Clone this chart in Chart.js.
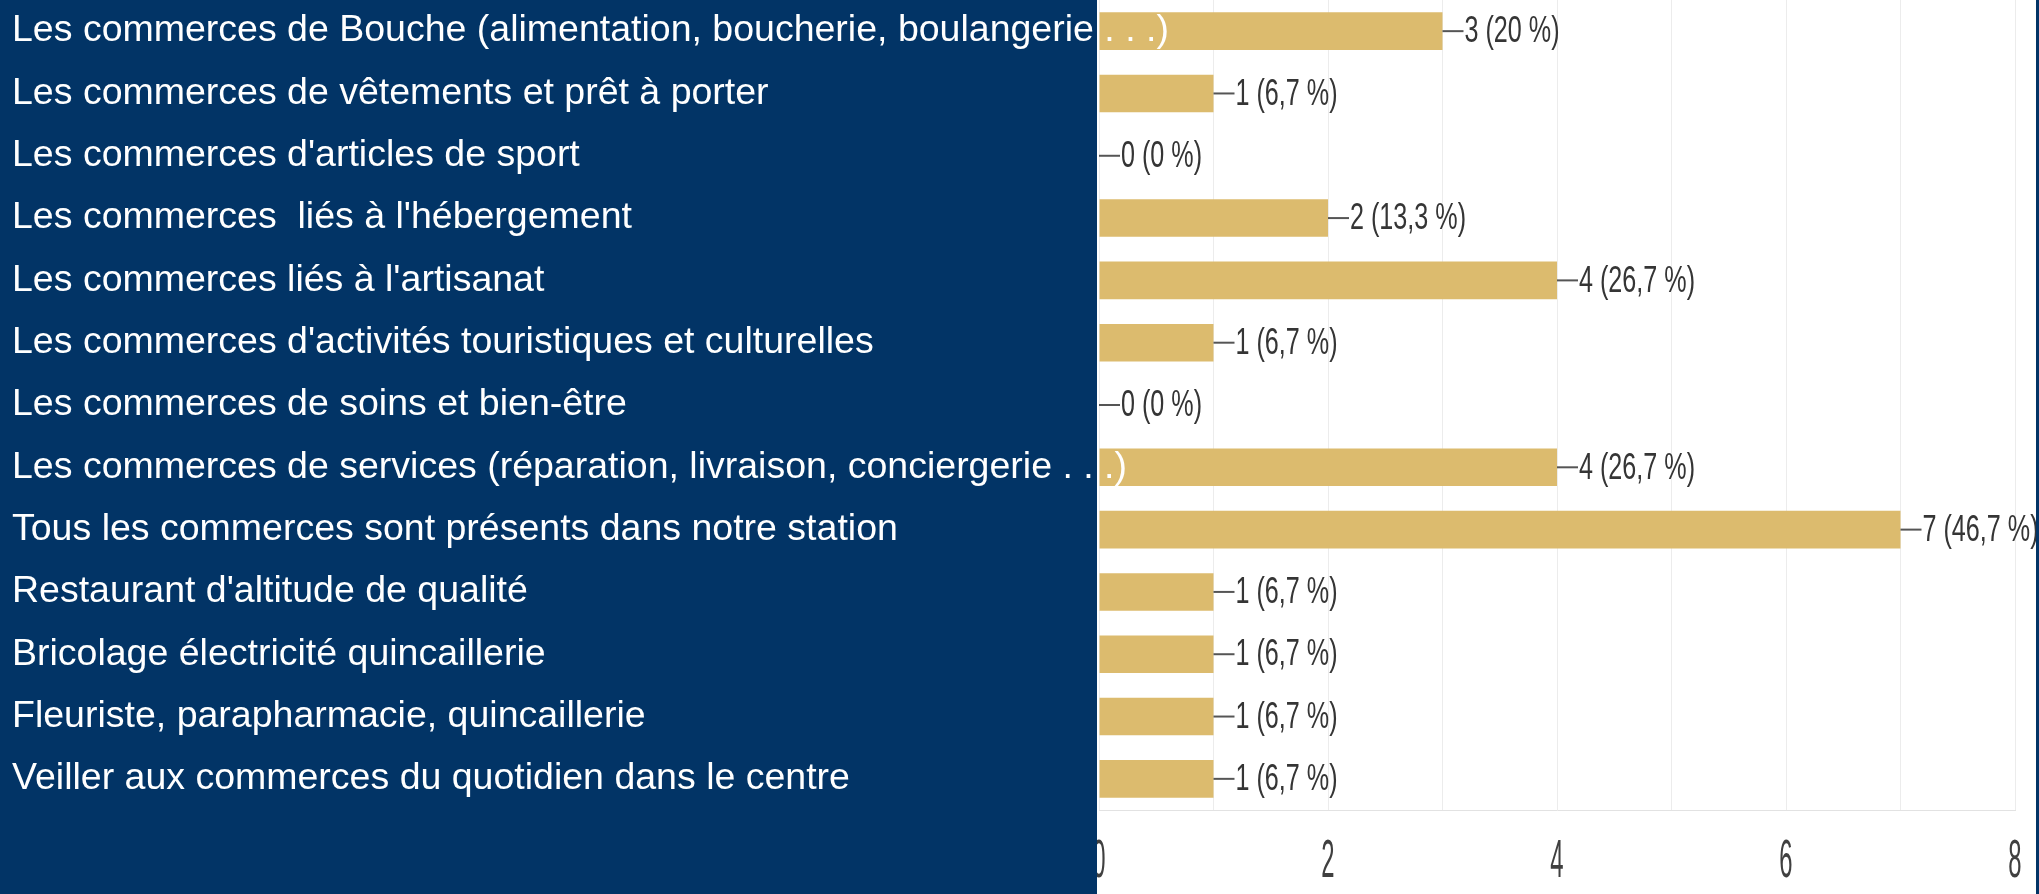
<!DOCTYPE html>
<html>
<head>
<meta charset="utf-8">
<script src="https://cdn.jsdelivr.net/npm/chart.js@4"></script>
<style>
  body { margin: 0; background: #ffffff; }
  #wrap { position: relative; width: 2039px; height: 894px; }
</style>
</head>
<body>
<div id="wrap"><canvas id="Commerces"></canvas></div>
<script>
const LABELS = [
    "Les commerces de Bouche (alimentation, boucherie, boulangerie . . .)",
    "Les commerces de vêtements et prêt à porter",
    "Les commerces d'articles de sport",
    "Les commerces  liés à l'hébergement",
    "Les commerces liés à l'artisanat",
    "Les commerces d'activités touristiques et culturelles",
    "Les commerces de soins et bien-être",
    "Les commerces de services (réparation, livraison, conciergerie . . .)",
    "Tous les commerces sont présents dans notre station",
    "Restaurant d'altitude de qualité",
    "Bricolage électricité quincaillerie",
    "Fleuriste, parapharmacie, quincaillerie",
    "Veiller aux commerces du quotidien dans le centre"
];
const VOTES = [3, 1, 0, 2, 4, 1, 0, 4, 7, 1, 1, 1, 1];
const PERCENTS = ['20 %', '6,7 %', '0 %', '13,3 %', '26,7 %', '6,7 %', '0 %', '26,7 %', '46,7 %', '6,7 %', '6,7 %', '6,7 %', '6,7 %'];
const X_TICKS = [0, 2, 4, 6, 8];

const NAVY = '#023466';
const SANS = '"Liberation Sans", Arial, sans-serif';

// squeezed text, the original screenshot is stretched vertically
function narrowText(ctx, text, x, y, size, sx, color, align) {
    ctx.save();
    ctx.translate(x, y);
    ctx.scale(sx, 1);
    ctx.fillStyle = color;
    ctx.font = size + 'px ' + SANS;
    ctx.textBaseline = 'middle';
    ctx.textAlign = align || 'left';
    ctx.fillText(text, 0, 0);
    ctx.restore();
}

const panel = {
    id: 'panel',
    beforeDraw(chart) {
        const ctx = chart.ctx;
        ctx.save();
        ctx.fillStyle = '#ffffff';
        ctx.fillRect(0, 0, chart.width, chart.height);
        ctx.restore();
    },
    beforeDatasetsDraw(chart) {
        const ctx = chart.ctx;
        const xs = chart.scales.x;
        // x tick labels, the "0" ends up half under the navy panel
        xs.ticks.forEach(t => {
            if (X_TICKS.includes(t.value)) {
                narrowText(ctx, String(t.value), xs.getPixelForValue(t.value), chart.chartArea.bottom + 52, 53, 0.45, '#404040', 'center');
            }
        });
        ctx.save();
        ctx.fillStyle = NAVY;
        ctx.fillRect(0, 0, chart.chartArea.left - 2, chart.height);
        ctx.restore();
    },
    afterDatasetsDraw(chart) {
        const ctx = chart.ctx;
        const meta = chart.getDatasetMeta(0);
        ctx.save();
        meta.data.forEach((bar, i) => {
            ctx.strokeStyle = '#555555';
            ctx.lineWidth = 2;
            ctx.beginPath();
            ctx.moveTo(bar.x, bar.y);
            ctx.lineTo(bar.x + 21, bar.y);
            ctx.stroke();
            narrowText(ctx, VOTES[i] + ' (' + PERCENTS[i] + ')', bar.x + 22, bar.y + 1, 37, 0.68, '#353535');
        });
        ctx.fillStyle = NAVY;
        ctx.fillRect(chart.width - 3, 0, 3, chart.height);
        ctx.restore();
    },
    afterDraw(chart) {
        const ctx = chart.ctx;
        const ys = chart.scales.y;
        ctx.save();
        ctx.fillStyle = '#ffffff';
        ctx.font = '37.5px ' + SANS;
        ctx.textBaseline = 'middle';
        ctx.textAlign = 'left';
        LABELS.forEach((label, i) => {
            ctx.fillText(label, 12, ys.getPixelForValue(i));
        });
        ctx.restore();
    }
};

new Chart(
    document.getElementById('Commerces'),
    {
        type: 'bar',
        plugins: [panel],
        options: {
            indexAxis: 'y',
            responsive: true,
            maintainAspectRatio: false,
            animation: false,
            layout: {
                padding: { left: 0, top: -7, right: 24, bottom: 0 }
            },
            scales: {
                x: {
                    min: 0,
                    max: 8,
                    afterBuildTicks: (axis) => {
                        axis.ticks = [0, 1, 2, 3, 4, 5, 6, 7, 8].map(v => ({ value: v }));
                    },
                    afterFit: (axis) => { axis.height = 84; },
                    ticks: { display: false },
                    grid: {
                        color: '#ececec',
                        drawTicks: false
                    },
                    border: {
                        color: '#e2e2e2'
                    }
                },
                y: {
                    afterFit: (axis) => { axis.width = 1099; },
                    ticks: { display: false },
                    grid: { display: false },
                    border: { display: false }
                }
            },
            plugins: {
                legend: { display: false },
                tooltip: { enabled: false }
            }
        },
        data: {
            labels: LABELS,
            datasets: [
                {
                    label: 'Réponses',
                    data: VOTES,
                    backgroundColor: '#dcbb6e',
                    borderWidth: 0,
                    categoryPercentage: 0.67,
                    barPercentage: 0.9
                }
            ]
        }
    }
);
</script>
</body>
</html>
